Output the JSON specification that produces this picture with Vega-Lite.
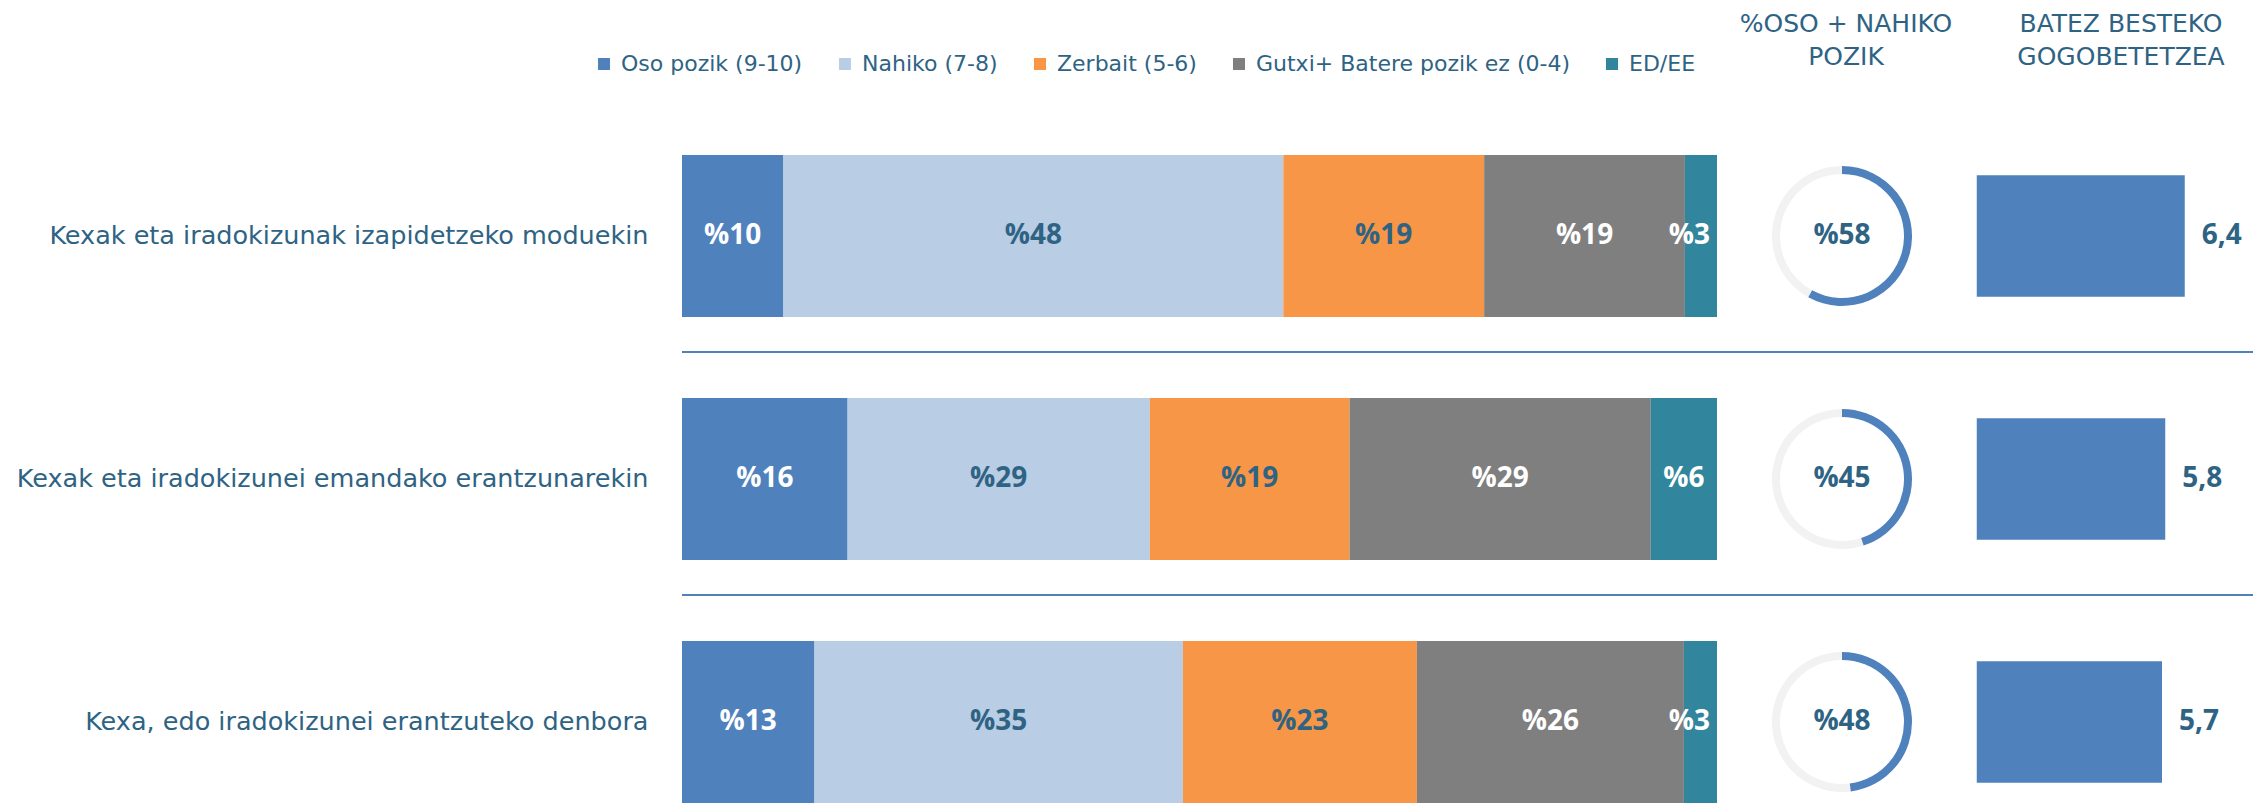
{
  "$schema": "https://vega.github.io/schema/vega-lite/v6.json",
  "autosize": {"type": "pad"},
  "padding": {"left": 16, "top": 12, "right": 0, "bottom": 0},
  "background": "white",
  "bounds": "flush",
  "spacing": 0,
  "config": {"view": {"stroke": null}, "font": "DejaVu Sans"},
  "datasets": {
    "seg": [
      {"cat": "Kexak eta iradokizunak izapidetzeko moduekin", "resp": "Oso pozik (9-10)", "ord": 1, "v": 9.8, "label": "%10"},
      {"cat": "Kexak eta iradokizunak izapidetzeko moduekin", "resp": "Nahiko (7-8)", "ord": 2, "v": 48.3, "label": "%48"},
      {"cat": "Kexak eta iradokizunak izapidetzeko moduekin", "resp": "Zerbait (5-6)", "ord": 3, "v": 19.4, "label": "%19"},
      {"cat": "Kexak eta iradokizunak izapidetzeko moduekin", "resp": "Gutxi+ Batere pozik ez (0-4)", "ord": 4, "v": 19.4, "label": "%19"},
      {"cat": "Kexak eta iradokizunak izapidetzeko moduekin", "resp": "ED/EE", "ord": 5, "v": 3.1, "label": "%3"},
      {"cat": "Kexak eta iradokizunei emandako erantzunarekin", "resp": "Oso pozik (9-10)", "ord": 1, "v": 16.0, "label": "%16"},
      {"cat": "Kexak eta iradokizunei emandako erantzunarekin", "resp": "Nahiko (7-8)", "ord": 2, "v": 29.2, "label": "%29"},
      {"cat": "Kexak eta iradokizunei emandako erantzunarekin", "resp": "Zerbait (5-6)", "ord": 3, "v": 19.3, "label": "%19"},
      {"cat": "Kexak eta iradokizunei emandako erantzunarekin", "resp": "Gutxi+ Batere pozik ez (0-4)", "ord": 4, "v": 29.1, "label": "%29"},
      {"cat": "Kexak eta iradokizunei emandako erantzunarekin", "resp": "ED/EE", "ord": 5, "v": 6.4, "label": "%6"},
      {"cat": "Kexa, edo iradokizunei erantzuteko denbora", "resp": "Oso pozik (9-10)", "ord": 1, "v": 12.8, "label": "%13"},
      {"cat": "Kexa, edo iradokizunei erantzuteko denbora", "resp": "Nahiko (7-8)", "ord": 2, "v": 35.6, "label": "%35"},
      {"cat": "Kexa, edo iradokizunei erantzuteko denbora", "resp": "Zerbait (5-6)", "ord": 3, "v": 22.6, "label": "%23"},
      {"cat": "Kexa, edo iradokizunei erantzuteko denbora", "resp": "Gutxi+ Batere pozik ez (0-4)", "ord": 4, "v": 25.8, "label": "%26"},
      {"cat": "Kexa, edo iradokizunei erantzuteko denbora", "resp": "ED/EE", "ord": 5, "v": 3.2, "label": "%3"}
    ],
    "summary": [
      {"cat": "Kexak eta iradokizunak izapidetzeko moduekin", "row": 1, "pct": 58, "pctLabel": "%58", "avg": 6.4, "avgLabel": "6,4"},
      {"cat": "Kexak eta iradokizunei emandako erantzunarekin", "row": 2, "pct": 45, "pctLabel": "%45", "avg": 5.8, "avgLabel": "5,8"},
      {"cat": "Kexa, edo iradokizunei erantzuteko denbora", "row": 3, "pct": 48, "pctLabel": "%48", "avg": 5.7, "avgLabel": "5,7"}
    ]
  },
  "hconcat": [
    {
      "width": 1035,
      "height": 648,
      "data": {"name": "seg"},
      "layer": [
        {
          "mark": {"type": "bar"},
          "encoding": {
            "y": {"field": "cat", "type": "nominal", "sort": ["Kexak eta iradokizunak izapidetzeko moduekin", "Kexak eta iradokizunei emandako erantzunarekin", "Kexa, edo iradokizunei erantzuteko denbora"], "scale": {"type": "band", "paddingInner": 0.3333, "paddingOuter": 0}, "axis": {"title": null, "domain": false, "ticks": false, "labelPadding": 34, "labelFont": "DejaVu Sans", "labelFontSize": 25.5, "labelColor": "#2E6384", "labelLimit": 900}},
            "x": {"field": "v", "type": "quantitative", "stack": "zero", "scale": {"domain": [0, 100]}, "axis": null},
            "color": {
              "field": "resp", "type": "nominal",
              "scale": {"domain": ["Oso pozik (9-10)", "Nahiko (7-8)", "Zerbait (5-6)", "Gutxi+ Batere pozik ez (0-4)", "ED/EE"], "range": ["#4F81BD", "#B9CDE5", "#F79646", "#7F7F7F", "#31859C"]},
              "legend": {"orient": "none", "legendX": -89, "legendY": -102, "direction": "horizontal", "title": null, "symbolType": "square", "symbolSize": 144, "symbolStrokeWidth": 0, "symbolOpacity": 1, "labelFont": "DejaVu Sans", "labelFontSize": 22, "labelColor": "#2E6384", "labelLimit": 500, "columnPadding": 31, "labelOffset": 6}
            },
            "order": {"field": "ord", "type": "quantitative"}
          }
        },
        {
          "mark": {"type": "text", "font": "Open Sans", "fontWeight": "bold", "fontSize": 28, "baseline": "middle", "align": "center"},
          "encoding": {
            "y": {"field": "cat", "type": "nominal", "sort": ["Kexak eta iradokizunak izapidetzeko moduekin", "Kexak eta iradokizunei emandako erantzunarekin", "Kexa, edo iradokizunei erantzuteko denbora"], "scale": {"type": "band", "paddingInner": 0.3333, "paddingOuter": 0}, "axis": {"title": null, "domain": false, "ticks": false, "labelPadding": 34, "labelFont": "DejaVu Sans", "labelFontSize": 25.5, "labelColor": "#2E6384", "labelLimit": 900}},
            "x": {"field": "v", "type": "quantitative", "stack": "zero", "bandPosition": 0.5, "scale": {"domain": [0, 100]}, "axis": null},
            "detail": {"field": "resp"},
            "order": {"field": "ord", "type": "quantitative"},
            "text": {"field": "label"},
            "opacity": {"condition": {"test": "datum.resp === 'ED/EE' && datum.v < 5", "value": 0}, "value": 1},
            "color": {"condition": {"test": "datum.resp === 'Nahiko (7-8)' || datum.resp === 'Zerbait (5-6)'", "value": "#2E6384"}, "value": "#FFFFFF"}
          }
        },
        {
          "transform": [
            {"stack": "v", "groupby": ["cat"], "sort": [{"field": "ord"}], "as": ["s0", "s1"]},
            {"filter": "datum.resp === 'ED/EE' && datum.v < 5"}
          ],
          "mark": {"type": "text", "font": "Open Sans", "fontWeight": "bold", "fontSize": 28, "baseline": "middle", "align": "right", "dx": -7, "color": "#FFFFFF"},
          "encoding": {
            "y": {"field": "cat", "type": "nominal", "sort": ["Kexak eta iradokizunak izapidetzeko moduekin", "Kexak eta iradokizunei emandako erantzunarekin", "Kexa, edo iradokizunei erantzuteko denbora"], "scale": {"type": "band", "paddingInner": 0.3333, "paddingOuter": 0}, "axis": {"title": null, "domain": false, "ticks": false, "labelPadding": 34, "labelFont": "DejaVu Sans", "labelFontSize": 25.5, "labelColor": "#2E6384", "labelLimit": 900}},
            "x": {"field": "s1", "type": "quantitative", "scale": {"domain": [0, 100]}, "axis": null},
            "text": {"field": "label"}
          }
        },
        {
          "data": {"name": "summary"},
          "transform": [{"filter": "datum.row > 1"}],
          "mark": {"type": "rule", "color": "#4F81BD", "strokeWidth": 2, "yOffset": -46},
          "encoding": {
            "y": {"field": "cat", "type": "nominal", "bandPosition": 0, "sort": ["Kexak eta iradokizunak izapidetzeko moduekin", "Kexak eta iradokizunei emandako erantzunarekin", "Kexa, edo iradokizunei erantzuteko denbora"], "scale": {"type": "band", "paddingInner": 0.3333, "paddingOuter": 0}, "axis": {"title": null, "domain": false, "ticks": false, "labelPadding": 34, "labelFont": "DejaVu Sans", "labelFontSize": 25.5, "labelColor": "#2E6384", "labelLimit": 900}}
          }
        }
      ]
    },
    {
      "width": 250,
      "height": 648,
      "data": {"name": "summary"},
      "title": {"text": ["%OSO + NAHIKO", "POZIK"], "frame": "group", "anchor": "middle", "font": "DejaVu Sans", "fontSize": 25, "fontWeight": "normal", "color": "#2E6384", "offset": 85, "lineHeight": 33, "dx": 4},
      "layer": [
        {
          "transform": [{"filter": "datum.row > 1"}],
          "mark": {"type": "rule", "color": "#4F81BD", "strokeWidth": 2, "yOffset": -46},
          "encoding": {
            "y": {"field": "cat", "type": "nominal", "bandPosition": 0, "sort": ["Kexak eta iradokizunak izapidetzeko moduekin", "Kexak eta iradokizunei emandako erantzunarekin", "Kexa, edo iradokizunei erantzuteko denbora"], "scale": {"type": "band", "paddingInner": 0.3333, "paddingOuter": 0}, "axis": null}
          }
        },
        {
          "mark": {"type": "arc", "radius": 70, "radius2": 62, "color": "#F2F2F2"},
          "encoding": {
            "y": {"field": "cat", "type": "nominal", "sort": ["Kexak eta iradokizunak izapidetzeko moduekin", "Kexak eta iradokizunei emandako erantzunarekin", "Kexa, edo iradokizunei erantzuteko denbora"], "scale": {"type": "band", "paddingInner": 0.3333, "paddingOuter": 0}, "axis": null},
            "theta": {"field": "pct", "type": "quantitative", "stack": null, "scale": {"domain": [0, 100], "range": [0, 6.283185307]}},
            "theta2": {"datum": 100}
          }
        },
        {
          "mark": {"type": "arc", "radius": 70, "radius2": 62, "color": "#4F81BD"},
          "encoding": {
            "y": {"field": "cat", "type": "nominal", "sort": ["Kexak eta iradokizunak izapidetzeko moduekin", "Kexak eta iradokizunei emandako erantzunarekin", "Kexa, edo iradokizunei erantzuteko denbora"], "scale": {"type": "band", "paddingInner": 0.3333, "paddingOuter": 0}, "axis": null},
            "theta": {"field": "pct", "type": "quantitative", "stack": null, "scale": {"domain": [0, 100], "range": [0, 6.283185307]}},
            "theta2": {"datum": 0}
          }
        },
        {
          "mark": {"type": "text", "font": "Open Sans", "fontWeight": "bold", "fontSize": 28, "baseline": "middle", "align": "center", "color": "#2E6384"},
          "encoding": {
            "y": {"field": "cat", "type": "nominal", "sort": ["Kexak eta iradokizunak izapidetzeko moduekin", "Kexak eta iradokizunei emandako erantzunarekin", "Kexa, edo iradokizunei erantzuteko denbora"], "scale": {"type": "band", "paddingInner": 0.3333, "paddingOuter": 0}, "axis": null},
            "text": {"field": "pctLabel"}
          }
        }
      ]
    },
    {
      "width": 286,
      "height": 648,
      "data": {"name": "summary"},
      "title": {"text": ["BATEZ BESTEKO", "GOGOBETETZEA"], "frame": "group", "anchor": "middle", "font": "DejaVu Sans", "fontSize": 25, "fontWeight": "normal", "color": "#2E6384", "offset": 85, "lineHeight": 33, "dx": 11},
      "layer": [
        {
          "transform": [{"filter": "datum.row > 1"}],
          "mark": {"type": "rule", "color": "#4F81BD", "strokeWidth": 2, "yOffset": -46},
          "encoding": {
            "y": {"field": "cat", "type": "nominal", "bandPosition": 0, "sort": ["Kexak eta iradokizunak izapidetzeko moduekin", "Kexak eta iradokizunei emandako erantzunarekin", "Kexa, edo iradokizunei erantzuteko denbora"], "scale": {"type": "band", "paddingInner": 0.3333, "paddingOuter": 0}, "axis": null}
          }
        },
        {
          "mark": {"type": "bar", "color": "#4F81BD", "height": {"band": 0.75}},
          "encoding": {
            "y": {"field": "cat", "type": "nominal", "sort": ["Kexak eta iradokizunak izapidetzeko moduekin", "Kexak eta iradokizunei emandako erantzunarekin", "Kexa, edo iradokizunei erantzuteko denbora"], "scale": {"type": "band", "paddingInner": 0.3333, "paddingOuter": 0}, "axis": null},
            "x": {"field": "avg", "type": "quantitative", "scale": {"domain": [-0.3, 8.5]}, "axis": null},
            "x2": {"datum": 0}
          }
        },
        {
          "mark": {"type": "text", "font": "Open Sans", "fontWeight": "bold", "fontSize": 28, "baseline": "middle", "align": "left", "dx": 17, "color": "#2E6384"},
          "encoding": {
            "y": {"field": "cat", "type": "nominal", "sort": ["Kexak eta iradokizunak izapidetzeko moduekin", "Kexak eta iradokizunei emandako erantzunarekin", "Kexa, edo iradokizunei erantzuteko denbora"], "scale": {"type": "band", "paddingInner": 0.3333, "paddingOuter": 0}, "axis": null},
            "x": {"field": "avg", "type": "quantitative", "scale": {"domain": [-0.3, 8.5]}, "axis": null},
            "text": {"field": "avgLabel"}
          }
        }
      ]
    }
  ]
}
